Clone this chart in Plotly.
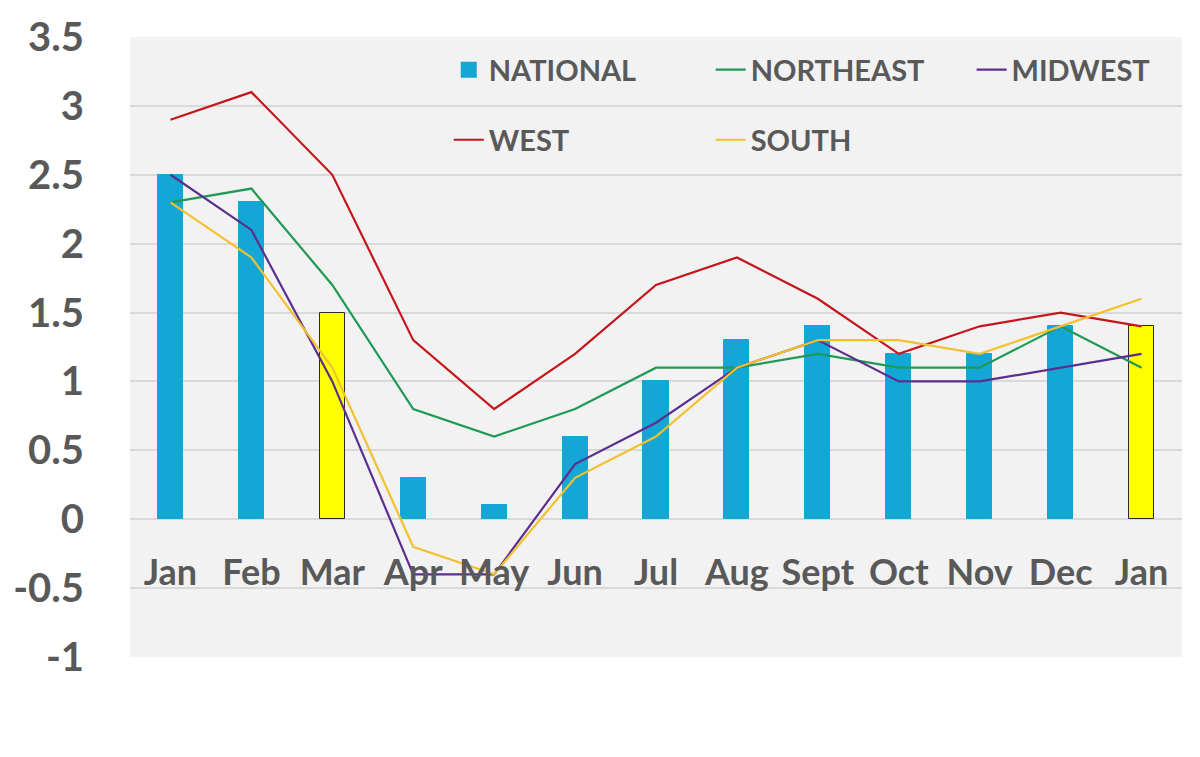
import plotly.graph_objects as go

months = ["Jan", "Feb", "Mar", "Apr", "May", "Jun", "Jul", "Aug", "Sept", "Oct", "Nov", "Dec", "Jan"]
national = [2.5, 2.3, 1.5, 0.3, 0.1, 0.6, 1.0, 1.3, 1.4, 1.2, 1.2, 1.4, 1.4]
highlight = [False, False, True, False, False, False, False, False, False, False, False, False, True]
northeast = [2.3, 2.4, 1.7, 0.8, 0.6, 0.8, 1.1, 1.1, 1.2, 1.1, 1.1, 1.4, 1.1]
midwest = [2.5, 2.1, 1.0, -0.4, -0.4, 0.4, 0.7, 1.1, 1.3, 1.0, 1.0, 1.1, 1.2]
west = [2.9, 3.1, 2.5, 1.3, 0.8, 1.2, 1.7, 1.9, 1.6, 1.2, 1.4, 1.5, 1.4]
south = [2.3, 1.9, 1.1, -0.2, -0.4, 0.3, 0.6, 1.1, 1.3, 1.3, 1.2, 1.4, 1.6]
y_ticks = [-1, -0.5, 0, 0.5, 1, 1.5, 2, 2.5, 3, 3.5]

BLUE = "#14a6d4"
YELLOW = "#ffff00"
TEXT = "#595959"
FONT = "Lato"

x = list(range(len(months)))

fig = go.Figure()

# bars, the two highlighted months are yellow with a dark outline
fig.add_trace(go.Bar(
    x=x, y=national, name="NATIONAL", showlegend=False,
    width=0.31,
    marker=dict(
        color=[YELLOW if h else BLUE for h in highlight],
        line=dict(color=["#2b2b2b" if h else BLUE for h in highlight], width=1),
    ),
))

# legend-only proxy so the NATIONAL swatch is a bigger square
fig.add_trace(go.Scatter(
    x=[None], y=[None], mode="markers", name="NATIONAL", legend="legend",
    marker=dict(symbol="square", size=16, color=BLUE),
))

lines = [
    ("NORTHEAST", northeast, "#1f9a55", "legend2"),
    ("MIDWEST", midwest, "#5b2e8f", "legend3"),
    ("WEST", west, "#c4161c", "legend4"),
    ("SOUTH", south, "#f2c12e", "legend5"),
]

for name, vals, color, leg in lines:
    fig.add_trace(go.Scatter(
        x=x, y=vals, name=name, mode="lines", legend=leg,
        line=dict(color=color, width=2.2),
    ))

legend_style = dict(
    xanchor="left",
    yanchor="middle",
    bgcolor="rgba(0,0,0,0)",
    borderwidth=0,
    font=dict(family=FONT, size=29, color=TEXT, weight="bold"),
    itemclick=False,
)

row1, row2 = 0.947, 0.834
col1, col2, col3 = 0.303, 0.552, 0.80

# margins allow for the 8px body margin of the page
fig.update_layout(
    width=1200,
    height=757,
    paper_bgcolor="white",
    plot_bgcolor="#f2f2f2",
    margin=dict(l=122, r=26, t=29, b=108, autoexpand=False),
    bargap=0,
    legend=dict(x=col1, y=row1, **legend_style),
    legend2=dict(x=col2, y=row1, **legend_style),
    legend3=dict(x=col3, y=row1, **legend_style),
    legend4=dict(x=col1, y=row2, **legend_style),
    legend5=dict(x=col2, y=row2, **legend_style),
    xaxis=dict(
        range=[-0.5, 12.5],
        tickvals=x,
        ticktext=months,
        anchor="free",
        position=1 / 4.5,
        showgrid=False,
        showline=False,
        zeroline=False,
        ticks="",
        automargin=False,
        ticklabelstandoff=29,
        tickfont=dict(family=FONT, size=36, color=TEXT, weight="bold"),
    ),
    yaxis=dict(
        range=[-1, 3.5],
        tickvals=y_ticks,
        ticktext=[f"{v:g}" for v in y_ticks],
        showgrid=True,
        gridcolor="#d9d9d9",
        gridwidth=1.5,
        zeroline=False,
        showline=False,
        ticks="",
        automargin=False,
        ticklabelstandoff=45,
        tickfont=dict(family=FONT, size=40, color=TEXT, weight="bold"),
    ),
)

fig.write_html("out.html")
